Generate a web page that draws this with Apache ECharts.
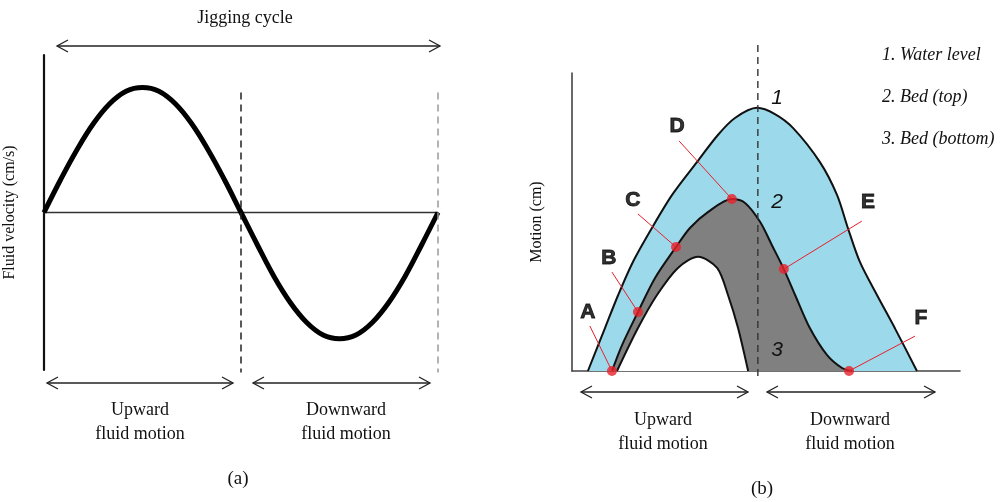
<!DOCTYPE html>
<html>
<head>
<meta charset="utf-8">
<script src="https://cdn.jsdelivr.net/npm/echarts@6/dist/echarts.min.js"></script>
<style>
  html, body { margin: 0; padding: 0; background: #fff; }
  #chart { width: 1003px; height: 502px; }
</style>
</head>
<body>
<div id="chart"></div>
<script>
// (a) fluid velocity over one jigging cycle (phase in degrees)
const phaseDeg = [0, 15, 30, 45, 60, 75, 90, 105, 120, 135, 150, 165, 180, 195, 210, 225, 240, 255, 270, 285, 300, 315, 330, 345, 360];
const velocity = [0, 0.26, 0.5, 0.71, 0.87, 0.97, 1.0, 0.97, 0.87, 0.71, 0.5, 0.26, 0, -0.26, -0.51, -0.72, -0.88, -0.98, -1.01, -0.98, -0.88, -0.72, -0.51, -0.26, 0];

// (b) motion curves, time in % of the plot width
const waterTime = [4.1, 8.5, 11.9, 15.7, 20.6, 25.8, 32.2, 37.6, 42.0, 47.7, 52.3, 57.0, 63.9, 68.3, 71.1, 74.2, 78.6, 83.2, 88.9];
const waterLevel = [0, 14.4, 25.5, 36.6, 48.0, 59.1, 70.1, 79.2, 84.9, 88.3, 86.2, 81.5, 70.1, 59.1, 48.0, 36.6, 25.5, 14.4, 0];

const bedTopTime = [10.3, 12.9, 17.0, 21.4, 26.8, 30.4, 35.1, 41.2, 44.6, 48.5, 51.5, 54.6, 57.5, 61.3, 65.7, 69.6, 72.2];
const bedTop = [0, 8.7, 19.8, 31.2, 41.6, 48.0, 53.4, 57.7, 56.4, 50.0, 42.3, 34.2, 25.5, 14.4, 5.4, 1.0, 0];

const bedBottomTime = [11.6, 17.0, 21.9, 27.3, 32.5, 37.4, 40.2, 42.8, 45.4];
const bedBottom = [0, 14.4, 25.5, 34.6, 38.3, 34.6, 25.5, 14.4, 0];

// marked points on the bed (top) curve
const pointNames = ['A', 'B', 'C', 'D', 'E', 'F'];
const pointTime = [10.3, 17.0, 26.8, 41.2, 54.6, 71.4];
const pointMotion = [0, 19.8, 41.6, 57.7, 34.2, 0];
const labelTime = [4.1, 9.5, 15.7, 27.1, 76.3, 89.9];
const labelMotion = [19.8, 37.9, 57.4, 82.2, 56.7, 17.8];
const leaderTime = [4.6, 10.3, 17.0, 27.6, 74.7, 88.4];
const leaderMotion = [15.1, 33.2, 52.7, 77.2, 50.3, 11.7];

// dashed separators: [x, yFrom, yTo]
const leftDividers = [[180, 0.96, -1.28, '#222'], [360, 0.96, -1.28, '#999']];
const rightDivider = [47.9, 109.4, -3.0];

const legendLines = ['1. Water level', '2. Bed (top)', '3. Bed (bottom)'];

const zip = (xs, ys) => xs.map((x, i) => [x, ys[i]]);

const serif = '"Liberation Serif", "DejaVu Serif", serif';
const sans = '"Liberation Sans", Arial, sans-serif';

function arrow(x1, x2, y) {
  const st = { stroke: '#222', lineWidth: 1.3, fill: null };
  return [
    { type: 'line', z: 100, shape: { x1: x1, y1: y, x2: x2, y2: y }, style: st },
    { type: 'polyline', z: 100, shape: { points: [[x1 + 11, y - 6], [x1, y], [x1 + 11, y + 6]] }, style: st },
    { type: 'polyline', z: 100, shape: { points: [[x2 - 11, y - 6], [x2, y], [x2 - 11, y + 6]] }, style: st }
  ];
}

function text(str, x, y, size, extra) {
  return {
    type: 'text', x: x, y: y, z: 100,
    style: Object.assign({
      text: str, font: size + 'px ' + serif, fill: '#111',
      textAlign: 'center', textVerticalAlign: 'middle'
    }, extra || {})
  };
}

const graphics = [].concat(
  arrow(57, 440, 46),
  arrow(47, 233, 383),
  arrow(253, 430, 383),
  arrow(581, 748, 392),
  arrow(767, 935, 392),
  [
    text('Jigging cycle', 245, 18, 18),
    text('Upward', 140, 410, 18),
    text('fluid motion', 140, 434, 18),
    text('Downward', 346, 410, 18),
    text('fluid motion', 346, 434, 18),
    text('(a)', 238, 479, 19),
    text('Upward', 663, 420, 18),
    text('fluid motion', 663, 444, 18),
    text('Downward', 850, 420, 18),
    text('fluid motion', 850, 444, 18),
    text('(b)', 762, 489, 19),
    text('1', 777, 98, 21, { font: 'italic 21px ' + sans }),
    text('2', 777, 202, 21, { font: 'italic 21px ' + sans }),
    text('3', 777, 350, 21, { font: 'italic 21px ' + sans })
  ],
  legendLines.map((s, i) => text(s, 882, 55 + i * 42, 18, { textAlign: 'left', font: 'italic 18px ' + serif })),
  // point letters A-F, placed through the right grid's scales below
  []
);

const chart = echarts.init(document.getElementById('chart'));

const hiddenBits = {
  axisTick: { show: false },
  axisLabel: { show: false },
  splitLine: { show: false }
};

const option = {
  animation: false,
  backgroundColor: '#fff',
  grid: [
    { left: 44, top: 55, width: 394, height: 315 },
    { left: 572, top: 73, width: 388, height: 298 }
  ],
  xAxis: [
    Object.assign({
      type: 'value', gridIndex: 0, min: 0, max: 360,
      axisLine: { onZero: true, lineStyle: { color: '#333', width: 1.3 } }
    }, hiddenBits),
    Object.assign({
      type: 'value', gridIndex: 1, min: 0, max: 100,
      axisLine: { lineStyle: { color: '#444', width: 1.6 } }
    }, hiddenBits)
  ],
  yAxis: [
    Object.assign({
      type: 'value', gridIndex: 0, min: -1.26, max: 1.26,
      name: 'Fluid velocity (cm/s)', nameLocation: 'middle', nameGap: 26,
      nameTextStyle: { fontFamily: serif, fontSize: 16, color: '#111' },
      axisLine: { show: true, lineStyle: { color: '#111', width: 2.2 } }
    }, hiddenBits),
    Object.assign({
      type: 'value', gridIndex: 1, min: 0, max: 100,
      name: 'Motion (cm)', nameLocation: 'middle', nameGap: 27,
      nameTextStyle: { fontFamily: serif, fontSize: 16, color: '#111' },
      axisLine: { show: true, lineStyle: { color: '#444', width: 1.6 } }
    }, hiddenBits)
  ],
  graphic: graphics,
  series: [
    {
      type: 'line', xAxisIndex: 0, yAxisIndex: 0,
      data: zip(phaseDeg, velocity), smooth: 0.4, symbol: 'none',
      lineStyle: { color: '#000', width: 5 }
    },
    {
      type: 'line', xAxisIndex: 1, yAxisIndex: 1,
      data: zip(waterTime, waterLevel), smooth: 0.3, symbol: 'none',
      lineStyle: { color: '#111', width: 2 },
      areaStyle: { color: '#9cd9ea', opacity: 1 }
    },
    {
      type: 'line', xAxisIndex: 1, yAxisIndex: 1,
      data: zip(bedTopTime, bedTop), smooth: 0.3, symbol: 'none',
      lineStyle: { color: '#111', width: 2 },
      areaStyle: { color: '#808080', opacity: 1 }
    },
    {
      type: 'line', xAxisIndex: 1, yAxisIndex: 1,
      data: zip(bedBottomTime, bedBottom), smooth: 0.3, symbol: 'none',
      lineStyle: { color: '#111', width: 2 },
      areaStyle: { color: '#ffffff', opacity: 1 }
    },
    {
      type: 'scatter', xAxisIndex: 1, yAxisIndex: 1,
      data: zip(pointTime, pointMotion), symbolSize: 10,
      itemStyle: { color: '#e8202a' }, z: 5,
      markLine: {
        silent: true, symbol: 'none', label: { show: false },
        lineStyle: { color: '#e8202a', type: 'solid', width: 1 },
        data: pointNames.map((n, i) => [
          { coord: [leaderTime[i], leaderMotion[i]] },
          { coord: [pointTime[i], pointMotion[i]] }
        ])
      }
    },
    {
      type: 'scatter', xAxisIndex: 1, yAxisIndex: 1,
      data: pointNames.map((n, i) => ({ name: n, value: [labelTime[i], labelMotion[i]] })),
      symbolSize: 1,
      itemStyle: { color: 'rgba(0,0,0,0)' },
      label: {
        show: true, position: 'inside', formatter: '{b}',
        fontFamily: 'Liberation Sans', fontWeight: 'bold', fontSize: 21, color: '#000',
        textBorderColor: '#000', textBorderWidth: 0.9
      }
    }
  ]
};

chart.setOption(option);

// dashed separators go past the plot edges, so place them through the axes' scales
const dashLines = [];
leftDividers.forEach(d => {
  const p1 = chart.convertToPixel({ gridIndex: 0 }, [d[0], d[1]]);
  const p2 = chart.convertToPixel({ gridIndex: 0 }, [d[0], d[2]]);
  dashLines.push({
    type: 'line', z: 100,
    shape: { x1: p1[0], y1: p1[1], x2: p2[0], y2: p2[1] },
    style: { stroke: d[3], lineWidth: 1.5, lineDash: [7, 5] }
  });
});
const q1 = chart.convertToPixel({ gridIndex: 1 }, [rightDivider[0], rightDivider[1]]);
const q2 = chart.convertToPixel({ gridIndex: 1 }, [rightDivider[0], rightDivider[2]]);
dashLines.push({
  type: 'line', z: 100,
  shape: { x1: q1[0], y1: q1[1], x2: q2[0], y2: q2[1] },
  style: { stroke: '#333', lineWidth: 1.4, lineDash: [7, 5] }
});
chart.setOption({ graphic: graphics.concat(dashLines) });

window.addEventListener('resize', function () {
  chart.resize();
});
</script>
</body>
</html>
